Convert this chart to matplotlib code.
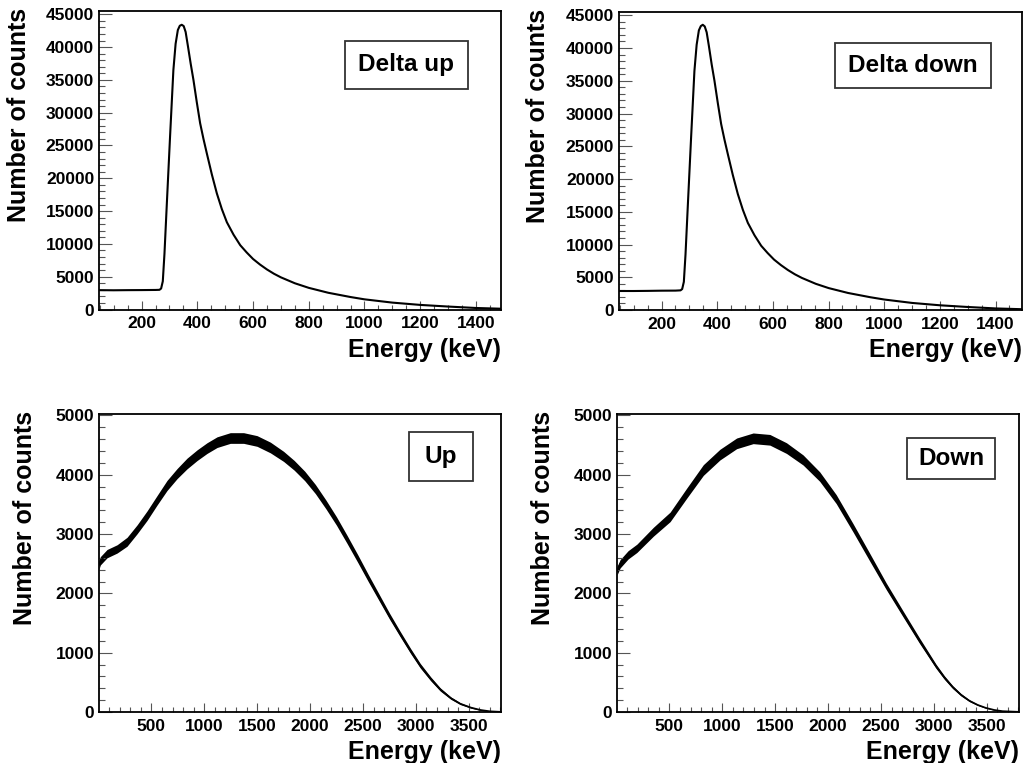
import matplotlib.pyplot as plt
import numpy as np
from matplotlib.ticker import MultipleLocator
from matplotlib.patches import Rectangle

plt.rcParams['font.family'] = ['Liberation Sans', 'DejaVu Sans']
plt.rcParams['font.weight'] = 'bold'

# ---- data ----
# top panels (delta spectra)
delta_up_e = [47, 100, 150, 200, 250, 264, 270, 276, 282, 290, 302, 314, 322, 330, 337, 344,
              351, 358, 366, 376, 386, 398, 410, 422, 434, 452, 470, 488, 506, 530, 554, 577,
              600, 625, 650, 675, 700, 750, 800, 870, 950, 1000, 1100, 1200, 1300, 1400, 1490]
delta_up_counts = [2950, 2930, 2950, 2960, 2980, 3000, 3200, 4300, 8500, 15700, 26300, 36500,
                   40500, 42600, 43250, 43400, 43200, 42300, 40200, 37500, 35000, 31600, 28400,
                   26000, 23800, 20600, 17700, 15300, 13300, 11400, 9800, 8700, 7700, 6850,
                   6100, 5450, 4900, 4000, 3300, 2550, 1900, 1550, 1050, 700, 450, 230, 120]

delta_down_e = [47, 100, 150, 200, 250, 268, 274, 280, 286, 294, 306, 318, 326, 334, 341, 348,
                355, 362, 370, 380, 390, 402, 414, 426, 438, 456, 474, 492, 510, 534, 558, 581,
                604, 629, 654, 679, 704, 754, 800, 870, 950, 1000, 1100, 1200, 1300, 1400, 1495]
delta_down_counts = [2900, 2900, 2920, 2950, 2960, 3000, 3200, 4300, 8500, 15700, 26300, 36500,
                     40500, 42700, 43350, 43550, 43300, 42400, 40300, 37500, 35000, 31600, 28400,
                     26000, 23800, 20600, 17700, 15300, 13300, 11400, 9800, 8700, 7700, 6850,
                     6100, 5450, 4900, 4000, 3350, 2600, 1950, 1600, 1080, 720, 460, 240, 120]

# bottom panels (full spectra), centre of the noisy band and its half width
up_e = [5, 18, 81, 176, 270, 365, 459, 554, 648, 743, 837, 932, 1026, 1121, 1246, 1372, 1499,
        1625, 1750, 1850, 1950, 2050, 2150, 2250, 2350, 2450, 2550, 2650, 2750, 2850, 2950,
        3042, 3140, 3231, 3330, 3420, 3520, 3609, 3700, 3800]
up_counts = [2480, 2550, 2670, 2750, 2870, 3080, 3310, 3570, 3820, 4020, 4190, 4330, 4450,
             4550, 4620, 4620, 4570, 4460, 4310, 4160, 3980, 3760, 3500, 3220, 2910, 2590,
             2260, 1940, 1620, 1320, 1030, 780, 560, 380, 235, 140, 75, 35, 12, 3]
up_spread = [70, 70, 70, 70, 75, 75, 80, 80, 85, 85, 90, 90, 90, 90, 90, 90, 90, 90, 85, 82,
             80, 77, 74, 71, 68, 65, 60, 55, 50, 45, 42, 38, 33, 27, 20, 15, 11, 8, 5, 3]

down_e = [5, 35, 110, 193, 349, 507, 664, 821, 978, 1136, 1292, 1450, 1607, 1764, 1921, 2077,
          2235, 2391, 2550, 2707, 2862, 3021, 3100, 3178, 3257, 3336, 3414, 3491, 3570, 3650,
          3800]
down_counts = [2380, 2500, 2650, 2760, 3040, 3290, 3690, 4080, 4340, 4530, 4615, 4590, 4450,
               4250, 3970, 3590, 3110, 2620, 2120, 1660, 1210, 770, 580, 420, 290, 190, 120,
               70, 35, 14, 3]
down_spread = [70, 70, 70, 70, 75, 80, 85, 90, 90, 90, 90, 90, 90, 85, 80, 75, 70, 65, 55, 50,
               45, 35, 30, 25, 20, 15, 11, 8, 6, 4, 2]

W, H = 1023, 763
fig = plt.figure(figsize=(W / 100, H / 100), dpi=100)


def px_axes(left, top, right, bottom):
    return fig.add_axes([left / W, 1 - bottom / H, (right - left) / W, (bottom - top) / H])


def style(ax, xmaj, xmin, ymaj, ymin):
    ax.xaxis.set_major_locator(MultipleLocator(xmaj))
    ax.xaxis.set_minor_locator(MultipleLocator(xmin))
    ax.yaxis.set_major_locator(MultipleLocator(ymaj))
    ax.yaxis.set_minor_locator(MultipleLocator(ymin))
    ax.tick_params(which='both', direction='in', color='#555555', width=0.8, labelsize=12.5)
    ax.tick_params(axis='x', which='major', length=6.5, pad=5)
    ax.tick_params(axis='x', which='minor', length=3.5)
    ax.tick_params(axis='y', which='major', length=9, pad=3.5)
    ax.tick_params(axis='y', which='minor', length=4.5)
    for lab in ax.get_xticklabels() + ax.get_yticklabels():
        lab.set_fontweight('bold')
    for s in ax.spines.values():
        s.set_linewidth(1.3)


def add_box(rect, text):
    # rect in figure pixels: left, top, right, bottom
    l, t, r, b = rect
    fig.patches.append(Rectangle((l / W, 1 - b / H), (r - l) / W, (b - t) / H,
                                 transform=fig.transFigure, fill=True, facecolor='white',
                                 edgecolor='#333333', linewidth=1.3, zorder=5))
    fig.text((l + r) / 2 / W, 1 - (t + b) / 2 / H, text, ha='center', va='center',
             fontsize=17.5, fontweight='bold', zorder=6)


def add_titles(ax_rect, ylab_x, xlab_top):
    l, t, r, b = ax_rect
    fig.text(r / W, 1 - xlab_top / H, 'Energy (keV)', ha='right', va='top',
             fontsize=18, fontweight='bold')
    fig.text(ylab_x / W, 1 - (t - 3) / H, 'Number of counts', ha='center', va='top',
             rotation=90, fontsize=18, fontweight='bold')


# top-left
r_tl = (99, 11, 501, 309.5)
ax = px_axes(*r_tl)
ax.plot(delta_up_e, delta_up_counts, color='black', lw=1.5)
ax.set_xlim(47, 1490)
ax.set_ylim(0, 45500)
style(ax, 200, 50, 5000, 1000)
add_box((345, 41, 468, 89), 'Delta up')
add_titles(r_tl, 19, 338)

# top-right
r_tr = (619, 12, 1022, 310)
ax = px_axes(*r_tr)
ax.plot(delta_down_e, delta_down_counts, color='black', lw=1.5)
ax.set_xlim(47, 1495)
ax.set_ylim(0, 45500)
style(ax, 200, 50, 5000, 1000)
add_box((835, 43, 991, 88), 'Delta down')
add_titles(r_tr, 538, 338)

# bottom-left
r_bl = (99, 414, 501, 712)
ax = px_axes(*r_bl)
lo = np.array(up_counts) - np.array(up_spread)
hi = np.array(up_counts) + np.array(up_spread)
ax.fill_between(up_e, lo, hi, color='black', lw=0)
ax.plot(up_e, up_counts, color='black', lw=1.2)
ax.set_xlim(5, 3805)
ax.set_ylim(0, 5025)
style(ax, 500, 100, 1000, 200)
add_box((409, 432, 473, 481), 'Up')
add_titles(r_bl, 25, 740)

# bottom-right
r_br = (617, 414, 1019, 712)
ax = px_axes(*r_br)
lo = np.array(down_counts) - np.array(down_spread)
hi = np.array(down_counts) + np.array(down_spread)
ax.fill_between(down_e, lo, hi, color='black', lw=0)
ax.plot(down_e, down_counts, color='black', lw=1.2)
ax.set_xlim(5, 3805)
ax.set_ylim(0, 5025)
style(ax, 500, 100, 1000, 200)
add_box((907, 438, 995, 479), 'Down')
add_titles(r_br, 543, 740)

fig.savefig('out.png', dpi=100)
